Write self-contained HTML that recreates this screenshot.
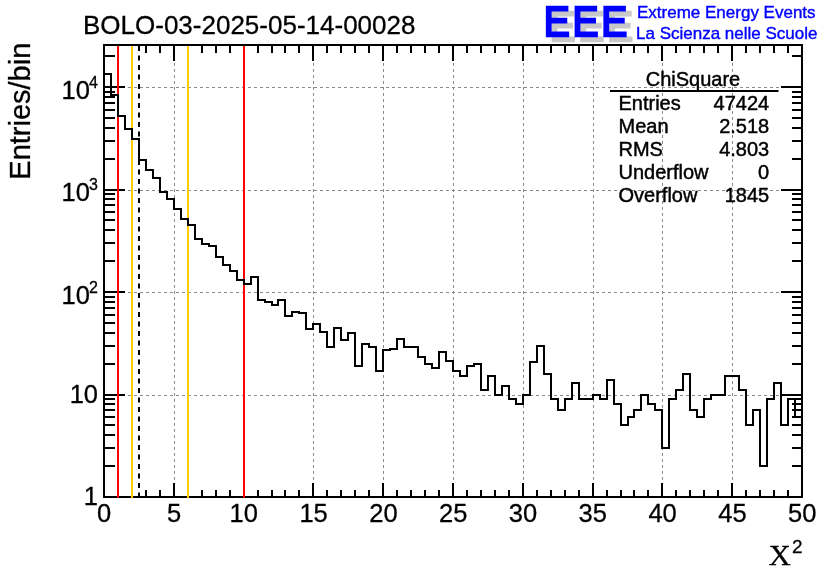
<!DOCTYPE html>
<html lang="en">
<head>
<meta charset="utf-8">
<title>BOLO-03-2025-05-14-00028 ChiSquare</title>
<style>
html,body{margin:0;padding:0;background:#fff;}
body{width:836px;height:572px;overflow:hidden;}
svg{display:block;}
.sans{font-family:"Liberation Sans",sans-serif;}
.serif{font-family:"Liberation Serif",serif;}
</style>
</head>
<body>
<svg width="836" height="572" viewBox="0 0 836 572">
<rect width="836" height="572" fill="#fff"/>
<path d="M174.5 45 V497 M244.5 45 V497 M313.5 45 V497 M383.5 45 V497 M453.5 45 V497 M523.5 45 V497 M593.5 45 V497 M662.5 45 V497 M732.5 45 V497 M104 395.5 H802 M104 292.5 H802 M104 190.5 H802 M104 87.5 H802" fill="none" stroke="#8a8a8a" stroke-width="1" stroke-dasharray="3 3"/>
<path d="M104 45 v16 M104 497 v-14 M118 45 v8 M118 497 v-7 M132 45 v8 M132 497 v-7 M146 45 v8 M146 497 v-7 M160 45 v8 M160 497 v-7 M174 45 v16 M174 497 v-14 M188 45 v8 M188 497 v-7 M202 45 v8 M202 497 v-7 M216 45 v8 M216 497 v-7 M230 45 v8 M230 497 v-7 M244 45 v16 M244 497 v-14 M258 45 v8 M258 497 v-7 M272 45 v8 M272 497 v-7 M285 45 v8 M285 497 v-7 M299 45 v8 M299 497 v-7 M313 45 v16 M313 497 v-14 M327 45 v8 M327 497 v-7 M341 45 v8 M341 497 v-7 M355 45 v8 M355 497 v-7 M369 45 v8 M369 497 v-7 M383 45 v16 M383 497 v-14 M397 45 v8 M397 497 v-7 M411 45 v8 M411 497 v-7 M425 45 v8 M425 497 v-7 M439 45 v8 M439 497 v-7 M453 45 v16 M453 497 v-14 M467 45 v8 M467 497 v-7 M481 45 v8 M481 497 v-7 M495 45 v8 M495 497 v-7 M509 45 v8 M509 497 v-7 M523 45 v16 M523 497 v-14 M537 45 v8 M537 497 v-7 M551 45 v8 M551 497 v-7 M565 45 v8 M565 497 v-7 M579 45 v8 M579 497 v-7 M593 45 v16 M593 497 v-14 M607 45 v8 M607 497 v-7 M621 45 v8 M621 497 v-7 M634 45 v8 M634 497 v-7 M648 45 v8 M648 497 v-7 M662 45 v16 M662 497 v-14 M676 45 v8 M676 497 v-7 M690 45 v8 M690 497 v-7 M704 45 v8 M704 497 v-7 M718 45 v8 M718 497 v-7 M732 45 v16 M732 497 v-14 M746 45 v8 M746 497 v-7 M760 45 v8 M760 497 v-7 M774 45 v8 M774 497 v-7 M788 45 v8 M788 497 v-7 M802 45 v16 M802 497 v-14 M104 466 h11 M802 466 h-10 M104 448 h11 M802 448 h-10 M104 435 h11 M802 435 h-10 M104 425 h11 M802 425 h-10 M104 417 h11 M802 417 h-10 M104 410 h11 M802 410 h-10 M104 404 h11 M802 404 h-10 M104 399 h11 M802 399 h-10 M104 395 h21 M802 395 h-21 M104 364 h11 M802 364 h-10 M104 346 h11 M802 346 h-10 M104 333 h11 M802 333 h-10 M104 323 h11 M802 323 h-10 M104 315 h11 M802 315 h-10 M104 308 h11 M802 308 h-10 M104 302 h11 M802 302 h-10 M104 297 h11 M802 297 h-10 M104 292 h21 M802 292 h-21 M104 261 h11 M802 261 h-10 M104 243 h11 M802 243 h-10 M104 230 h11 M802 230 h-10 M104 220 h11 M802 220 h-10 M104 212 h11 M802 212 h-10 M104 205 h11 M802 205 h-10 M104 199 h11 M802 199 h-10 M104 194 h11 M802 194 h-10 M104 190 h21 M802 190 h-21 M104 159 h11 M802 159 h-10 M104 141 h11 M802 141 h-10 M104 128 h11 M802 128 h-10 M104 118 h11 M802 118 h-10 M104 110 h11 M802 110 h-10 M104 103 h11 M802 103 h-10 M104 97 h11 M802 97 h-10 M104 92 h11 M802 92 h-10 M104 87 h21 M802 87 h-21 M104 56 h11 M802 56 h-10" fill="none" stroke="#000" stroke-width="2"/>
<rect x="104" y="45" width="698" height="452" fill="none" stroke="#000" stroke-width="2"/>
<path d="M118 46 V498" stroke="#ff0000" stroke-width="2" fill="none"/>
<path d="M244 46 V498" stroke="#ff0000" stroke-width="2" fill="none"/>
<path d="M132 46 V498" stroke="#ffcc00" stroke-width="2" fill="none"/>
<path d="M188 46 V498" stroke="#ffcc00" stroke-width="2" fill="none"/>
<path d="M139 46 V497" stroke="#000" stroke-width="2" stroke-dasharray="5 4.5" fill="none"/>
<path d="M104 497 V74 H111 V95 H118 V116 H125 V129 H132 V139 H139 V160 H146 V170 H153 V178 H160 V192 H167 V199 H174 V209 H181 V219 H188 V225 H195 V239 H202 V244 H209 V246 H216 V257 H223 V265 H230 V271 H237 V280 H244 V284 H251 V277 H258 V300 H265 V302 H272 V305 H278 V300 H285 V316 H292 V312 H299 V313 H306 V329 H313 V324 H320 V332 H327 V347 H334 V328 H341 V340 H348 V333 H355 V366 H362 V344 H369 V347 H376 V371 H383 V350 H390 V349 H397 V339 H404 V347 H411 V347 H418 V357 H425 V364 H432 V368 H439 V352 H446 V361 H453 V371 H460 V376 H467 V366 H474 V364 H481 V390 H488 V376 H495 V395 H502 V386 H509 V399 H516 V404 H523 V395 H530 V362 H537 V346 H544 V374 H551 V399 H558 V410 H565 V399 H572 V383 H579 V399 H586 V399 H593 V395 H600 V399 H607 V380 H614 V404 H621 V425 H628 V417 H634 V410 H641 V395 H648 V404 H655 V410 H662 V448 H669 V399 H676 V390 H683 V374 H690 V410 H697 V417 H704 V399 H711 V395 H718 V395 H725 V376 H732 V376 H739 V390 H746 V425 H753 V410 H760 V466 H767 V399 H774 V383 H781 V425 H788 V399 H795 V417 H802 V497" fill="none" stroke="#000" stroke-width="2" stroke-linejoin="miter"/>
<g class="sans" font-size="25.5" fill="#000" text-anchor="middle" stroke="#000" stroke-width="0.3">
<text x="104.2" y="522">0</text>
<text x="174" y="522">5</text>
<text x="243.8" y="522">10</text>
<text x="313.6" y="522">15</text>
<text x="383.4" y="522">20</text>
<text x="453.2" y="522">25</text>
<text x="523" y="522">30</text>
<text x="592.8" y="522">35</text>
<text x="662.6" y="522">40</text>
<text x="732.4" y="522">45</text>
<text x="802.2" y="522">50</text>
</g>
<g class="sans" font-size="25.5" fill="#000" text-anchor="end" stroke="#000" stroke-width="0.3">
<text x="98" y="505">1</text>
<text x="98" y="403">10</text>
<text x="98" y="303.9">10<tspan font-size="16" dy="-11" dx="-0.8">2</tspan></text>
<text x="98" y="201.4">10<tspan font-size="16" dy="-11" dx="-0.8">3</tspan></text>
<text x="98" y="98.9">10<tspan font-size="16" dy="-11" dx="-0.8">4</tspan></text>
</g>
<text transform="translate(30 42.7) rotate(-90)" class="sans" font-size="29" text-anchor="end" fill="#000" stroke="#000" stroke-width="0.3">Entries/bin</text>
<text transform="translate(768.8 564.6) scale(1.04 1)" class="serif" font-size="29.3" fill="#000" stroke="#000" stroke-width="0.3">Χ</text>
<text x="792" y="552.6" class="sans" font-size="19" fill="#000" stroke="#000" stroke-width="0.3">2</text>
<text x="83" y="34" class="sans" font-size="26" fill="#000" stroke="#000" stroke-width="0.3">BOLO-03-2025-05-14-00028</text>
<text transform="translate(549.5 40.5) scale(1 1.105)" class="sans" font-size="39" letter-spacing="2.7" stroke-width="2.2" stroke-linejoin="miter" fill="#c8c8c8" stroke="#c8c8c8">EEE</text>
<text transform="translate(543.8 35.9) scale(1 1.105)" class="sans" font-size="39" letter-spacing="2.7" stroke-width="2.2" stroke-linejoin="miter" fill="#0000ff" stroke="#0000ff">EEE</text>
<text x="637" y="17.7" class="sans" font-size="17" fill="#0000ff" stroke="#0000ff" stroke-width="0.4">Extreme Energy Events</text>
<text x="636" y="38.9" class="sans" font-size="17" fill="#0000ff" stroke="#0000ff" stroke-width="0.4">La Scienza nelle Scuole</text>
<g class="sans" font-size="20" fill="#000" stroke="#000" stroke-width="0.45">
<text x="693" y="85.6" text-anchor="middle">ChiSquare</text>
<text x="618.5" y="109.7">Entries</text>
<text x="769.2" y="109.7" text-anchor="end">47424</text>
<text x="618.5" y="132.7">Mean</text>
<text x="769.2" y="132.7" text-anchor="end">2.518</text>
<text x="618.5" y="155.7">RMS</text>
<text x="769.2" y="155.7" text-anchor="end">4.803</text>
<text x="618.5" y="178.7">Underflow</text>
<text x="769.2" y="178.7" text-anchor="end">0</text>
<text x="618.5" y="201.7">Overflow</text>
<text x="769.2" y="201.7" text-anchor="end">1845</text>
</g>
<path d="M610 91 H778.5" stroke="#000" stroke-width="2" fill="none"/>
</svg>
</body>
</html>
